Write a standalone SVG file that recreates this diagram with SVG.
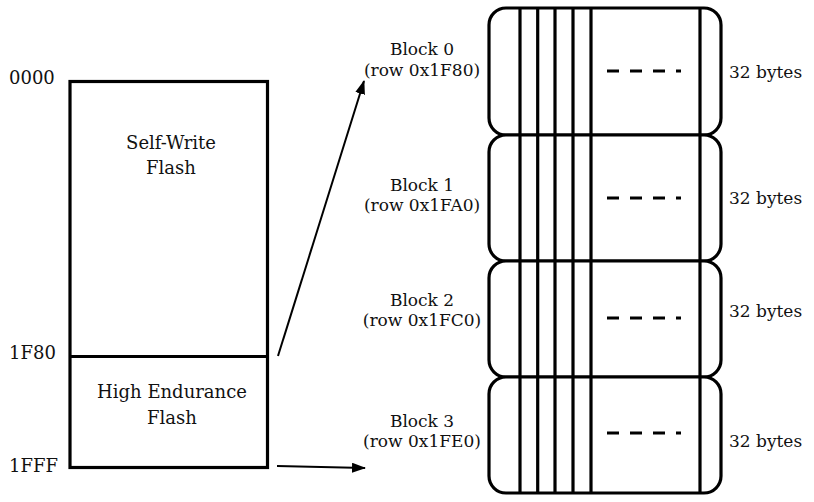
<svg xmlns="http://www.w3.org/2000/svg" width="814" height="502" viewBox="0 0 814 502">
<defs>
<style>
text{font-family:"DejaVu Serif","Liberation Serif",serif;fill:#111;font-size:17px}
.big{font-size:18px}
.mid{text-anchor:middle}
.ln{stroke:#000;stroke-width:3.2;fill:none}
.blk{stroke:#000;stroke-width:3.2;fill:#fff}
.dash{stroke:#000;stroke-width:3.2;stroke-dasharray:12 11;fill:none}
.arr{stroke:#000;stroke-width:2;fill:none}
</style>
<marker id="ah" viewBox="0 0 14 10" refX="13" refY="5" markerWidth="14" markerHeight="10" markerUnits="userSpaceOnUse" orient="auto">
<path d="M0,0 L14,5 L0,10 Z" fill="#000"/>
</marker>
</defs>
<rect width="814" height="502" fill="#fff"/>
<g id="memory">
<rect class="ln" x="70" y="81.5" width="197.5" height="386"/>
<line class="ln" x1="70" y1="356.5" x2="267.5" y2="356.5"/>
<text class="big mid" x="171" y="149">Self-Write</text>
<text class="big mid" x="171" y="174">Flash</text>
<text class="big mid" x="172" y="398">High Endurance</text>
<text class="big mid" x="172" y="424">Flash</text>
<text class="big" x="9" y="84">0000</text>
<text class="big" x="9" y="359">1F80</text>
<text class="big" x="9" y="472">1FFF</text>
</g>
<g id="block0">
<rect class="blk" x="489" y="8" width="232" height="127" rx="17"/>
<text class="mid" x="422" y="55">Block 0</text>
<text class="mid" x="422" y="76">(row 0x1F80)</text>
<text x="729" y="78">32 bytes</text>
</g>
<g id="block1">
<rect class="blk" x="489" y="135" width="232" height="126" rx="17"/>
<text class="mid" x="422" y="191">Block 1</text>
<text class="mid" x="422" y="211">(row 0x1FA0)</text>
<text x="729" y="204">32 bytes</text>
</g>
<g id="block2">
<rect class="blk" x="489" y="261" width="232" height="116" rx="17"/>
<text class="mid" x="422" y="306">Block 2</text>
<text class="mid" x="422" y="326">(row 0x1FC0)</text>
<text x="729" y="317">32 bytes</text>
</g>
<g id="block3">
<rect class="blk" x="489" y="377" width="232" height="116" rx="17"/>
<text class="mid" x="422" y="427">Block 3</text>
<text class="mid" x="422" y="447">(row 0x1FE0)</text>
<text x="729" y="447">32 bytes</text>
</g>
<g id="columns">
<line class="ln" x1="520" y1="8" x2="520" y2="493"/>
<line class="ln" x1="537.7" y1="8" x2="537.7" y2="493"/>
<line class="ln" x1="555" y1="8" x2="555" y2="493"/>
<line class="ln" x1="573" y1="8" x2="573" y2="493"/>
<line class="ln" x1="591" y1="8" x2="591" y2="493"/>
<line class="ln" x1="700" y1="8" x2="700" y2="493"/>
<line class="dash" x1="607" y1="71" x2="681" y2="71"/>
<line class="dash" x1="607" y1="198" x2="681" y2="198"/>
<line class="dash" x1="607" y1="318" x2="681" y2="318"/>
<line class="dash" x1="607" y1="433" x2="681" y2="433"/>
</g>
<g id="connectors">
<line class="arr" x1="278" y1="356" x2="364" y2="81" marker-end="url(#ah)"/>
<line class="arr" x1="277" y1="466" x2="365" y2="468" marker-end="url(#ah)"/>
</g>
</svg>
